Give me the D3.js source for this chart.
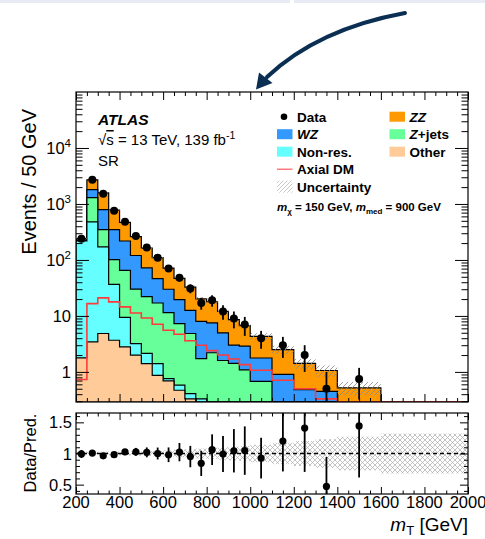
<!DOCTYPE html>
<html>
<head>
<meta charset="utf-8">
<script src="https://cdn.jsdelivr.net/npm/d3@7"></script>
<style>
  body { margin: 0; background: #fff; }
  svg { display: block; }
  text { font-family: "Liberation Sans", Arial, Helvetica, sans-serif; fill: #000; }
</style>
</head>
<body>
<svg id="chart" width="485" height="539"></svg>
<script>
// Bin edges in mT [GeV]
const binEdges = [200,250,300,350,400,450,500,550,600,650,700,750,800,850,900,950,1000,1100,1200,1300,1400,1600,2000];

// Background predictions (events / 50 GeV), one value per bin
const other  = [1.78,3.43,4.85,3.68,2.8,1.99,1.41,0.87,0.69,0.47,0.33,0.2,0.15,0.1,0.08,0.06,0.04,0.02,0.01,0.01,0,0];
const nonRes = [216,474,166,33,6.6,1.22,0.74,0.54,0.07,0.11,0.08,0.13,0.05,0.05,0.04,0.03,0.02,0.02,0.01,0.01,0,0];
const zJets  = [4,823,178,64.8,55.6,26.8,19.9,15.6,10.7,6.7,4.44,1.4,2.0,1.45,1.3,1.0,0.62,0.16,0.08,0.03,0.01,0.01];
const wzBkg  = [16,510,446,247,153,90,50,29.5,18.5,12.3,7.75,6.27,5.3,3.4,1.6,1.8,1.09,0.7,0.38,0.4,0.04,0.02];
const zzBkg  = [4,890,785,426,250,141,91,63.5,41.5,27.4,20,12.2,10.4,7.1,5.6,3.8,2.55,1.6,0.94,0.61,0.47,0.15];

// Observed data and its uncertainty (events / 50 GeV)
const dataVals = [240,2720,1520,760,480,268,166,110,70,48,31,17,19,12,9,7,4,3,2,0.5,0.75,null];
const dataErrs = [15.5,52,39,27.6,22,16.4,12.9,10.5,8.4,6.9,5.6,4.1,4.4,3.5,3,2.6,1.41,1.22,1.0,0.5,0.43,null];

// Axial-vector DM signal (m_chi = 150 GeV, m_med = 900 GeV)
const axialDM = [0.73,16.6,21,17.8,14.5,11.3,9.2,7.1,5.55,4.7,3.6,3.0,2.4,2.0,1.7,1.35,1.07,0.71,0.5,0.33,0,0];

// Relative uncertainty on the total prediction
const predUnc = [0.03,0.025,0.03,0.03,0.03,0.035,0.04,0.045,0.05,0.06,0.07,0.08,0.09,0.1,0.11,0.12,0.14,0.17,0.2,0.23,0.27,0.32];

// Tick labels
const xTickLabels = [200,400,600,800,1000,1200,1400,1600,1800,2000];
const yDecades = [1,10,100,1000,10000];
const ratioTickLabels = [0.5,1,1.5];

const keys = ["other","nonres","zjets","wz","zz"];
const colors = { other:"#ffcc99", nonres:"#66ffff", zjets:"#66ff99", wz:"#3399ff", zz:"#ff9900" };

const svg = d3.select("#chart");
const L = 76, R = 468, mT = 92, mB = 402, rT = 413, rB = 494;
const nBins = binEdges.length - 1;

const x = d3.scaleLinear().domain([200, 2000]).range([L, R]);
const yMin = 0.29;
const y = d3.scaleLog().domain([yMin, 1e5]).range([mB, mT]);
const yr = d3.scaleLinear().domain([0.35, 1.65]).range([rB, rT]);
const yc = v => (v == null || v <= yMin) ? mB : Math.max(mT, y(v));
const yrc = v => Math.min(rB, Math.max(rT, yr(v)));

// Decorative header strip and annotation arrow
svg.append("rect").attr("x", 0).attr("y", 0).attr("width", 290).attr("height", 3).attr("fill", "#e8ebf3");
svg.append("rect").attr("x", 294).attr("y", 0).attr("width", 191).attr("height", 3).attr("fill", "#e8ebf3");
svg.append("path").attr("d", "M405,13 Q318,29 267,77").attr("fill", "none")
  .attr("stroke", "#0b2f52").attr("stroke-width", 4).attr("stroke-linecap", "round");
svg.append("path").attr("d", "M256,89.5 L259,72.5 L272.5,83 Z").attr("fill", "#0b2f52");

const defs = svg.append("defs");
defs.append("clipPath").attr("id", "clipMain").append("rect")
  .attr("x", L).attr("y", mT).attr("width", R - L).attr("height", mB - mT);
defs.append("clipPath").attr("id", "clipRatio").append("rect")
  .attr("x", L).attr("y", rT).attr("width", R - L).attr("height", rB - rT);
const hatch = defs.append("pattern").attr("id", "hatch").attr("patternUnits", "userSpaceOnUse")
  .attr("width", 5).attr("height", 5);
hatch.append("path").attr("d", "M0,5 L5,0 M-1,1 L1,-1 M4,6 L6,4").attr("stroke", "#888").attr("stroke-width", 0.8);
const hatchL = defs.append("pattern").attr("id", "hatchLight").attr("patternUnits", "userSpaceOnUse")
  .attr("width", 4).attr("height", 4);
hatchL.append("path").attr("d", "M0,4 L4,0 M-1,1 L1,-1 M3,5 L5,3").attr("stroke", "#bbb").attr("stroke-width", 0.8);
const cross = defs.append("pattern").attr("id", "cross").attr("patternUnits", "userSpaceOnUse")
  .attr("width", 5).attr("height", 5);
cross.append("path").attr("d", "M0,5 L5,0 M-1,1 L1,-1 M4,6 L6,4 M0,0 L5,5 M4,-1 L6,1 M-1,4 L1,6")
  .attr("stroke", "#aaa").attr("stroke-width", 0.7);

// Stacked backgrounds
const rows = d3.range(nBins).map(i => ({
  other: other[i], nonres: nonRes[i], zjets: zJets[i], wz: wzBkg[i], zz: zzBkg[i]
}));
const stacked = d3.stack().keys(keys)(rows);
const totalPred = stacked[stacked.length - 1].map(d => d[1]);

const line = d3.line();
function stepPoints(vals, closed) {
  const pts = [];
  if (closed) pts.push([x(binEdges[0]), mB]);
  vals.forEach((v, i) => {
    pts.push([x(binEdges[i]), yc(v)]);
    pts.push([x(binEdges[i + 1]), yc(v)]);
  });
  if (closed) pts.push([x(binEdges[nBins]), mB]);
  return pts;
}

const gMain = svg.append("g").attr("clip-path", "url(#clipMain)");
for (let k = stacked.length - 1; k >= 0; k--) {
  const s = stacked[k];
  gMain.append("path")
    .attr("d", line(stepPoints(s.map(d => d[1]), true)) + "Z")
    .attr("fill", colors[s.key]).attr("stroke", "#000").attr("stroke-width", 1.2)
    .attr("stroke-linejoin", "miter");
}

// Uncertainty band on the total prediction
gMain.selectAll("rect.unc").data(d3.range(nBins)).join("rect").attr("class", "unc")
  .attr("x", i => x(binEdges[i])).attr("width", i => x(binEdges[i + 1]) - x(binEdges[i]))
  .attr("y", i => yc(totalPred[i] * (1 + predUnc[i])))
  .attr("height", i => yc(totalPred[i] * (1 - predUnc[i])) - yc(totalPred[i] * (1 + predUnc[i])))
  .attr("fill", "url(#hatch)");

// Signal line
gMain.append("path").attr("d", line(stepPoints(axialDM, false)))
  .attr("fill", "none").attr("stroke", "#ff3b3b").attr("stroke-width", 1.6);

// Data points
const dataIdx = d3.range(nBins).filter(i => dataVals[i] != null);
const center = i => x((binEdges[i] + binEdges[i + 1]) / 2);
gMain.selectAll("line.err").data(dataIdx).join("line").attr("class", "err")
  .attr("x1", center).attr("x2", center)
  .attr("y1", i => yc(dataVals[i] + dataErrs[i]))
  .attr("y2", i => yc(dataVals[i] - dataErrs[i]))
  .attr("stroke", "#000").attr("stroke-width", 1.8);
gMain.selectAll("circle.pt").data(dataIdx).join("circle").attr("class", "pt")
  .attr("cx", center).attr("cy", i => yc(dataVals[i])).attr("r", 4).attr("fill", "#000");

// Ratio panel
const gRatio = svg.append("g").attr("clip-path", "url(#clipRatio)");
gRatio.selectAll("rect.band").data(d3.range(nBins)).join("rect").attr("class", "band")
  .attr("x", i => x(binEdges[i])).attr("width", i => x(binEdges[i + 1]) - x(binEdges[i]))
  .attr("y", i => yr(1 + predUnc[i])).attr("height", i => yr(1 - predUnc[i]) - yr(1 + predUnc[i]))
  .attr("fill", "url(#cross)");
gRatio.append("line").attr("x1", L).attr("x2", R).attr("y1", yr(1)).attr("y2", yr(1))
  .attr("stroke", "#000").attr("stroke-width", 1.5).attr("stroke-dasharray", "4,3");
const ratio = i => dataVals[i] / totalPred[i];
const ratioErr = i => dataErrs[i] / totalPred[i];
gRatio.selectAll("line.rerr").data(dataIdx).join("line").attr("class", "rerr")
  .attr("x1", center).attr("x2", center)
  .attr("y1", i => yrc(ratio(i) + ratioErr(i))).attr("y2", i => yrc(ratio(i) - ratioErr(i)))
  .attr("stroke", "#000").attr("stroke-width", 1.8);
gRatio.selectAll("circle.rpt").data(dataIdx).join("circle").attr("class", "rpt")
  .attr("cx", center).attr("cy", i => yr(ratio(i))).attr("r", 3.6).attr("fill", "#000");

// Axes: inward ticks on all four sides
function tickAxis(axisFn, scale, values, size, tx, ty) {
  const g = svg.append("g").attr("transform", `translate(${tx},${ty})`);
  g.call(axisFn(scale).tickValues(values).tickSize(size).tickSizeOuter(0).tickFormat(""));
  g.select(".domain").remove();
  g.selectAll("line").attr("stroke", "#000").attr("stroke-width", 1);
  g.selectAll("text").remove();
}
const majorX = d3.range(200, 2001, 200);
const minorX = d3.range(200, 2001, 50).filter(v => v % 200 !== 0);
const minorY = [];
[0.1, 1, 10, 100, 1000, 10000].forEach(d => { for (let m = 2; m <= 9; m++) { const v = d * m; if (v >= yMin && v < 1e5) minorY.push(v); } });
const majorR = ratioTickLabels;
const minorR = d3.range(4, 17).map(v => v / 10).filter(v => ![5, 10, 15].includes(Math.round(v * 10)));

tickAxis(d3.axisLeft, y, yDecades, -13, L, 0);
tickAxis(d3.axisLeft, y, minorY, -6.5, L, 0);
tickAxis(d3.axisRight, y, yDecades, -13, R, 0);
tickAxis(d3.axisRight, y, minorY, -6.5, R, 0);
tickAxis(d3.axisBottom, x, majorX, -8, 0, mB);
tickAxis(d3.axisBottom, x, minorX, -4, 0, mB);
tickAxis(d3.axisTop, x, majorX, -8, 0, mT);
tickAxis(d3.axisTop, x, minorX, -4, 0, mT);

tickAxis(d3.axisLeft, yr, majorR, -8, L, 0);
tickAxis(d3.axisLeft, yr, minorR, -4, L, 0);
tickAxis(d3.axisRight, yr, majorR, -8, R, 0);
tickAxis(d3.axisRight, yr, minorR, -4, R, 0);
tickAxis(d3.axisBottom, x, majorX, -7, 0, rB);
tickAxis(d3.axisBottom, x, minorX, -3.5, 0, rB);
tickAxis(d3.axisTop, x, majorX, -7, 0, rT);
tickAxis(d3.axisTop, x, minorX, -3.5, 0, rT);

svg.append("rect").attr("x", L).attr("y", mT).attr("width", R - L).attr("height", mB - mT)
  .attr("fill", "none").attr("stroke", "#000").attr("stroke-width", 1.2);
svg.append("rect").attr("x", L).attr("y", rT).attr("width", R - L).attr("height", rB - rT)
  .attr("fill", "none").attr("stroke", "#000").attr("stroke-width", 1.2);

// Tick labels
yDecades.forEach(v => {
  const t = svg.append("text").attr("x", 71).attr("y", y(v) + 6).attr("text-anchor", "end")
    .attr("font-size", 16.5);
  const p = Math.round(Math.log10(v));
  if (p === 0) t.text("1");
  else if (p === 1) t.text("10");
  else {
    t.append("tspan").text("10");
    t.append("tspan").attr("dy", -7).attr("font-size", 11.5).text(p);
  }
});
ratioTickLabels.forEach(v => {
  svg.append("text").attr("x", 72).attr("y", yr(v) + 6).attr("text-anchor", "end")
    .attr("font-size", 16.5).text(v);
});
xTickLabels.forEach(v => {
  svg.append("text").attr("x", x(v)).attr("y", 507.5).attr("text-anchor", "middle")
    .attr("font-size", 16.5).text(v);
});

// Axis titles
svg.append("text").attr("transform", "translate(36,109) rotate(-90)").attr("text-anchor", "end")
  .attr("font-size", 20).text("Events / 50 GeV");
svg.append("text").attr("transform", "translate(36,453) rotate(-90)").attr("text-anchor", "middle")
  .attr("font-size", 16.5).text("Data/Pred.");
const xt = svg.append("text").attr("x", 468).attr("y", 531).attr("text-anchor", "end").attr("font-size", 19);
xt.append("tspan").attr("font-style", "italic").text("m");
xt.append("tspan").attr("font-size", 13).attr("dy", 4).text("T");
xt.append("tspan").attr("dy", -4).text(" [GeV]");

// Experiment label
svg.append("text").attr("x", 98).attr("y", 125).attr("font-size", 15.5)
  .attr("font-weight", "bold").attr("font-style", "italic").text("ATLAS");
const lumi = svg.append("text").attr("x", 98).attr("y", 145).attr("font-size", 15);
lumi.append("tspan").text("\u221A");
lumi.append("tspan").style("text-decoration", "overline").text("s");
lumi.append("tspan").text(" = 13 TeV, 139 fb");
lumi.append("tspan").attr("dy", -6).attr("font-size", 10.5).text("-1");
svg.append("text").attr("x", 98).attr("y", 166).attr("font-size", 15).text("SR");

// Legend
const lg = svg.append("g").attr("font-size", 13.5).attr("font-weight", "bold");
const rowY = [116.7, 134.2, 151.7, 169.2, 186.7];
function legendText(xp, yp, parts) {
  const t = lg.append("text").attr("x", xp).attr("y", yp + 5);
  parts.forEach(p => t.append("tspan").attr("font-style", p[1] ? "italic" : "normal").text(p[0]));
}
lg.append("circle").attr("cx", 284).attr("cy", rowY[0]).attr("r", 3.3).attr("fill", "#000");
legendText(297, rowY[0], [["Data", false]]);
lg.append("rect").attr("x", 277).attr("y", rowY[1] - 5).attr("width", 15.5).attr("height", 10).attr("fill", colors.wz);
legendText(297, rowY[1], [["WZ", true]]);
lg.append("rect").attr("x", 277).attr("y", rowY[2] - 5).attr("width", 15.5).attr("height", 10).attr("fill", colors.nonres);
legendText(297, rowY[2], [["Non-res.", false]]);
lg.append("line").attr("x1", 277).attr("x2", 292.5).attr("y1", rowY[3]).attr("y2", rowY[3])
  .attr("stroke", "#ff5a5a").attr("stroke-width", 1.2);
legendText(297, rowY[3], [["Axial DM", false]]);
lg.append("rect").attr("x", 277).attr("y", rowY[4] - 6).attr("width", 15.5).attr("height", 12).attr("fill", "url(#hatchLight)");
legendText(297, rowY[4], [["Uncertainty", false]]);
lg.append("rect").attr("x", 389.5).attr("y", rowY[0] - 5).attr("width", 15.5).attr("height", 10).attr("fill", colors.zz);
legendText(409.5, rowY[0], [["ZZ", true]]);
lg.append("rect").attr("x", 389.5).attr("y", rowY[1] - 5).attr("width", 15.5).attr("height", 10).attr("fill", colors.zjets);
legendText(409.5, rowY[1], [["Z", true], ["+jets", false]]);
lg.append("rect").attr("x", 389.5).attr("y", rowY[2] - 5).attr("width", 15.5).attr("height", 10).attr("fill", colors.other);
legendText(409.5, rowY[2], [["Other", false]]);

const mp = svg.append("text").attr("x", 277).attr("y", 211).attr("font-size", 11.5).attr("font-weight", "bold");
mp.append("tspan").attr("font-style", "italic").text("m");
mp.append("tspan").attr("font-size", 8).attr("dy", 3).text("\u03C7");
mp.append("tspan").attr("dy", -3).text(" = 150 GeV, ");
mp.append("tspan").attr("font-style", "italic").text("m");
mp.append("tspan").attr("font-size", 8).attr("dy", 3).text("med");
mp.append("tspan").attr("dy", -3).text(" = 900 GeV");
</script>
</body>
</html>
